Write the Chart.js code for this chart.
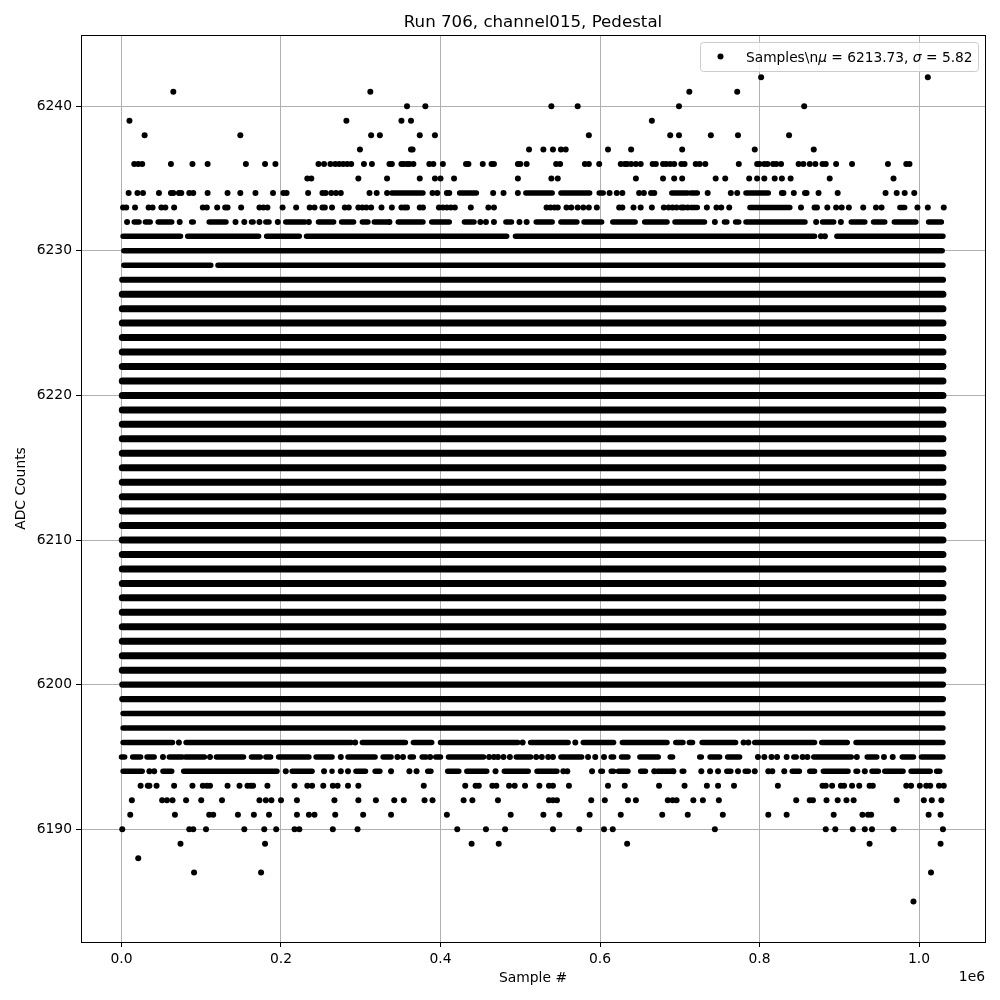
<!DOCTYPE html>
<html lang="en">
  <head>
    <meta charset="UTF-8" />
    <title>Run 706, channel015, Pedestal</title>
    <style>
      body { margin: 0; background: #fff; }
      canvas { display: block; }
    </style>
  </head>
  <body>
    <canvas id="pedestalChart" width="1000" height="1000"></canvas>

    <script src="https://cdn.jsdelivr.net/npm/chart.js"></script>
    <script>
      // all sample positions below are in thousands of samples
      const xTicks = [0, 200000, 400000, 600000, 800000, 1000000];
      const yTicks = [6190, 6200, 6210, 6220, 6230, 6240];
      const xRange = [-50750, 1082700];
      const yRange = [6182.2, 6244.925];

      // single dots per ADC level
      const dots6242 = [802, 1011];
      const dots6241 = [65, 312, 712, 772];
      const dots6240 = [358, 381, 539, 572, 699, 856];
      const dots6239 = [10, 282, 351, 363, 665];
      const dots6238 = [29, 149, 313, 324, 374, 393, 586, 688, 699, 739, 773, 837];
      const dots6237 = [299, 363, 365, 511, 529, 541, 551, 557, 610, 639, 703, 794, 868];
      const dots6236 = [
        16, 21, 26, 62, 89, 108, 156, 180, 193, 247, 254, 262, 268, 273, 278, 283, 288, 304, 314,
        336, 339, 351, 354, 358, 361, 366, 386, 391, 403, 432, 435, 453, 464, 467, 497, 500, 508,
        545, 550, 581, 586, 599, 626, 631, 634, 639, 645, 651, 666, 670, 679, 683, 688, 693, 702,
        706, 720, 725, 732, 774, 797, 800, 806, 810, 817, 821, 827, 849, 855, 863, 870, 879, 883,
        896, 916, 961, 984, 988,
      ];
      const dots6235 = [
        233, 238, 297, 333, 374, 393, 400, 417, 497, 539, 547, 645, 679, 693, 703, 745, 757, 787,
        797, 806, 819, 828, 839, 888, 968,
      ];
      const dots6234 = [
        9, 20, 27, 47, 62, 65, 72, 75, 85, 90, 108, 133, 149, 168, 190, 203, 207, 234, 252, 256,
        263, 269, 275, 311, 320, 333, 390, 396, 408, 411, 466, 479, 497, 612, 621, 628, 649, 655,
        664, 668, 735, 764, 772, 828, 830, 843, 857, 859, 874, 898, 958, 972, 982, 994,
      ];
      const dots6233 = [
        2, 6, 17, 34, 39, 50, 55, 66, 102, 107, 120, 130, 133, 150, 173, 178, 183, 202, 219, 236,
        242, 252, 255, 264, 280, 285, 297, 302, 307, 313, 326, 339, 351, 355, 358, 374, 378, 398,
        403, 408, 413, 418, 438, 460, 467, 533, 538, 543, 547, 558, 564, 572, 579, 586, 596, 624,
        628, 642, 651, 665, 680, 686, 691, 696, 702, 705, 710, 734, 746, 752, 762, 852, 869, 872,
        885, 896, 903, 912, 930, 946, 953, 998, 1011, 1031,
      ];
      const dots6232 = [7, 73, 143, 154, 173, 196, 235, 336, 450, 457, 467, 499, 508, 744, 871, 902];
      const dots6231 = [877, 882];
      const dots6196 = [72, 293, 503, 569, 780, 786];
      const dots6195 = [
        52, 111, 346, 353, 387, 461, 467, 472, 479, 487, 520, 527, 535, 541, 585, 594, 605, 275,
        798, 806, 815, 822, 834, 854, 860, 922, 956, 967,
      ];
      const dots6194 = [
        35, 41, 206, 254, 275, 284, 338, 361, 370, 469, 554, 559, 590, 668, 692, 727, 738, 748,
        773, 794, 811, 816, 831, 932,
      ];
      const dots6193 = [
        24, 33, 35, 44, 66, 89, 102, 107, 111, 133, 148, 158, 162, 165, 183, 217, 233, 239, 253,
        265, 271, 284, 297, 379, 431, 444, 448, 465, 470, 486, 493, 506, 524, 536, 541, 561, 610,
        631, 674, 706, 734, 748, 768, 823, 879, 883, 891, 902, 906, 916, 925, 938, 942, 984, 990,
        1001, 1009, 1014, 1025, 1031,
      ];
      const dots6192 = [
        13, 51, 57, 64, 81, 100, 126, 173, 181, 188, 200, 220, 267, 297, 319, 342, 354, 380, 390,
        429, 440, 472, 536, 541, 546, 589, 606, 635, 645, 685, 691, 696, 717, 729, 749, 846, 863,
        867, 884, 898, 909, 918, 972, 1006, 1016, 1028,
      ];
      const dots6191 = [
        11, 67, 110, 115, 146, 166, 185, 220, 235, 242, 268, 303, 338, 408, 488, 529, 549, 587,
        626, 678, 710, 754, 811, 834, 893, 929, 936, 940, 1012, 1027,
      ];
      const dots6190 = [
        1, 85, 90, 106, 154, 179, 194, 217, 223, 265, 296, 421, 457, 481, 541, 574, 605, 616, 744,
        883, 895, 917, 932, 941, 968, 1030,
      ];
      const dots6189 = [74, 180, 439, 473, 634, 938, 1027];
      const dots6188 = [21];
      const dots6187 = [91, 175, 1015];
      const dots6185 = [993];

      // stretches where the dots merge, as [from, to]
      const runs6234 = [[339, 378], [424, 445], [507, 540], [551, 587], [599, 604], [690, 710], [714, 722], [783, 811]];
      const runs6233 = [[714, 722], [788, 838], [976, 982]];
      const runs6232 = [
        [16, 22], [30, 36], [46, 63], [88, 90], [110, 131], [163, 165], [181, 185], [206, 230],
        [247, 266], [276, 291], [302, 309], [317, 333], [347, 378], [389, 411], [430, 442],
        [482, 489], [520, 540], [551, 571], [580, 602], [616, 644], [656, 684], [694, 731],
        [756, 759], [770, 774], [783, 857], [879, 893], [915, 932], [943, 957], [969, 996],
        [1012, 1028],
      ];
      const runs6231 = [[2, 74], [83, 172], [182, 223], [232, 483], [494, 869], [897, 1030]];
      const runs6230 = [[3, 1029]];
      const runs6229 = [[3, 112], [121, 1030]];
      const runs6228 = [[1, 1030]];
      const runs6200 = [[1, 1030]];
      const runs6199 = [[1, 1030]];
      const runs6198 = [[2, 1030]];
      const runs6197 = [[2, 1030]];
      const runs6196 = [
        [2, 64], [81, 288], [302, 356], [366, 389], [400, 497], [513, 560], [579, 617], [628, 684],
        [695, 704], [712, 716], [728, 770], [794, 869], [878, 910], [921, 1030],
      ];
      const runs6195 = [
        [0, 4], [14, 24], [32, 41], [60, 76], [80, 104], [119, 153], [163, 174], [181, 187],
        [197, 235], [244, 264], [284, 318], [328, 338], [362, 366], [377, 382], [394, 400],
        [410, 454], [495, 513], [551, 577], [614, 617], [627, 635], [650, 673], [688, 691],
        [725, 727], [738, 750], [760, 775], [843, 846], [868, 915], [935, 947], [979, 993],
        [1003, 1030],
      ];
      const runs6194 = [
        [2, 26], [52, 63], [78, 195], [214, 239], [264, 265], [294, 306], [318, 324], [384, 388],
        [409, 423], [433, 458], [480, 510], [521, 546], [601, 603], [614, 617], [623, 635],
        [651, 657], [672, 690], [703, 705], [759, 764], [782, 786], [841, 850], [863, 869],
        [880, 911], [921, 923], [941, 949], [957, 980], [990, 1014], [1022, 1026],
      ];

      // levels that read as one unbroken bar from the first sample to the last
      const solidLevels = [
        6201, 6202, 6203, 6204, 6205, 6206, 6207, 6208, 6209, 6210, 6211, 6212, 6213, 6214, 6215,
        6216, 6217, 6218, 6219, 6220, 6221, 6222, 6223, 6224, 6225, 6226, 6227,
      ];
      const solidRun = [[1, 1030]];

      const dotRows = [
        [6242, dots6242], [6241, dots6241], [6240, dots6240], [6239, dots6239], [6238, dots6238],
        [6237, dots6237], [6236, dots6236], [6235, dots6235], [6234, dots6234], [6233, dots6233],
        [6232, dots6232], [6231, dots6231], [6196, dots6196], [6195, dots6195], [6194, dots6194],
        [6193, dots6193], [6192, dots6192], [6191, dots6191], [6190, dots6190], [6189, dots6189],
        [6188, dots6188], [6187, dots6187], [6185, dots6185],
      ];
      const thinRows = [
        [6234, runs6234], [6233, runs6233], [6232, runs6232], [6231, runs6231], [6230, runs6230],
        [6229, runs6229], [6198, runs6198], [6197, runs6197], [6196, runs6196], [6195, runs6195],
        [6194, runs6194],
      ];
      const midRows = [[6228, runs6228], [6200, runs6200], [6199, runs6199]];
      const solidRows = solidLevels.map((level) => [level, solidRun]);

      function dotPoints(rows) {
        return rows.flatMap(([level, xs]) => xs.map((x) => ({ x: x * 1000, y: level })));
      }

      // null y breaks the line between runs
      function runPoints(rows) {
        return rows.flatMap(([level, runs]) =>
          runs.flatMap(([from, to]) => [
            { x: from * 1000, y: level },
            { x: to * 1000, y: level },
            { x: to * 1000, y: null },
          ])
        );
      }

      function runDataset(rows, width) {
        return {
          data: runPoints(rows),
          showLine: true,
          spanGaps: false,
          borderColor: "#000",
          borderWidth: width,
          borderCapStyle: "round",
          pointRadius: 0,
        };
      }

      const legendParts = [
        { text: "Samples\\n", italic: false },
        { text: "\u03bc", italic: true },
        { text: " = 6213.73, ", italic: false },
        { text: "\u03c3", italic: true },
        { text: " = 5.82", italic: false },
      ];

      const frameAndLegend = {
        id: "frameAndLegend",
        afterDraw(chart) {
          const { ctx, chartArea: a } = chart;
          ctx.save();
          ctx.strokeStyle = "#000";
          ctx.lineWidth = 1;
          ctx.strokeRect(a.left + 0.5, a.top + 0.5, a.right - a.left, a.bottom - a.top);

          ctx.beginPath();
          ctx.roundRect(700.5, 42.5, 278, 29, 3);
          ctx.fillStyle = "rgba(255,255,255,0.8)";
          ctx.fill();
          ctx.strokeStyle = "#ccc";
          ctx.stroke();

          ctx.fillStyle = "#000";
          ctx.beginPath();
          ctx.arc(720.5, 56.5, 3, 0, Math.PI * 2);
          ctx.fill();

          ctx.textBaseline = "alphabetic";
          ctx.textAlign = "left";
          let x = 746;
          legendParts.forEach((part) => {
            ctx.font = (part.italic ? "italic " : "") + "13.77px 'DejaVu Sans'";
            ctx.fillText(part.text, x, 61.5);
            x += ctx.measureText(part.text).width;
          });

          ctx.font = "13.89px 'DejaVu Sans'";
          ctx.textAlign = "right";
          ctx.fillText("1e6", 985, 981);
          ctx.restore();
        },
      };

      Chart.defaults.font.family = "'DejaVu Sans'";
      Chart.defaults.font.size = 13.89;
      Chart.defaults.color = "#000";

      new Chart(document.getElementById("pedestalChart"), {
        type: "scatter",
        data: {
          datasets: [
            runDataset(solidRows, 7),
            runDataset(midRows, 6.2),
            runDataset(thinRows, 5.5),
            {
              label: "Samples",
              data: dotPoints(dotRows),
              backgroundColor: "#000",
              pointRadius: 3,
              pointBorderWidth: 0,
            },
          ],
        },
        options: {
          responsive: false,
          animation: false,
          layout: { padding: { right: 15 } },
          plugins: {
            legend: { display: false },
            tooltip: { enabled: false },
            title: {
              display: true,
              text: "Run 706, channel015, Pedestal",
              fullSize: false,
              font: { size: 16.67, weight: "normal", lineHeight: 1.2 },
              padding: { top: 13, bottom: 2 },
            },
          },
          scales: {
            x: {
              type: "linear",
              min: xRange[0],
              max: xRange[1],
              afterBuildTicks: (axis) => {
                axis.ticks = xTicks.map((value) => ({ value }));
              },
              afterFit: (axis) => {
                axis.height = 58;
              },
              grid: { color: "#b0b0b0", tickColor: "#000", tickLength: 5, lineWidth: 1 },
              border: { display: false },
              ticks: {
                padding: 4,
                maxRotation: 0,
                autoSkip: false,
                callback: (v) => (v / 1000000).toFixed(1),
              },
              title: { display: true, text: "Sample #", padding: { top: 3, bottom: 13 } },
            },
            y: {
              type: "linear",
              min: yRange[0],
              max: yRange[1],
              afterBuildTicks: (axis) => {
                axis.ticks = yTicks.map((value) => ({ value }));
              },
              afterFit: (axis) => {
                axis.width = 81;
              },
              grid: { color: "#b0b0b0", tickColor: "#000", tickLength: 5, lineWidth: 1 },
              border: { display: false },
              ticks: { padding: 4, autoSkip: false, callback: (v) => String(v) },
              title: { display: true, text: "ADC Counts", padding: { top: 13, bottom: 3 } },
            },
          },
        },
        plugins: [frameAndLegend],
      });
    </script>
  </body>
</html>
